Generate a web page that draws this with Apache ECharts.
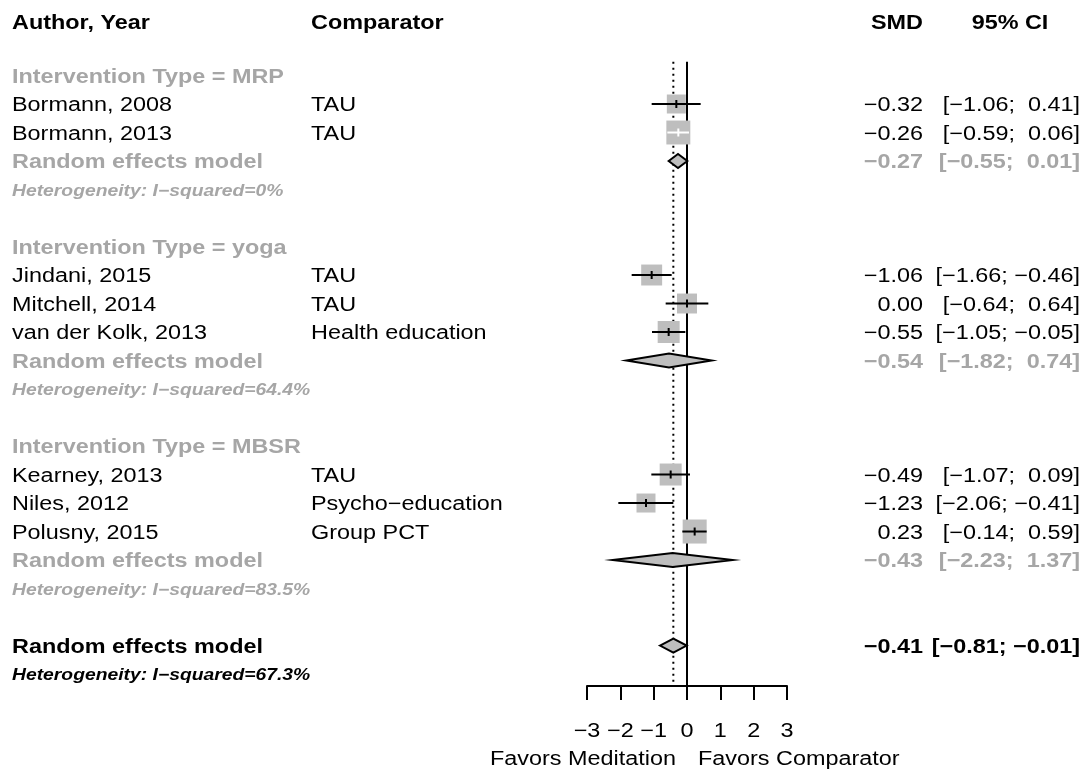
<!DOCTYPE html>
<html>
<head>
<meta charset="utf-8">
<script src="https://cdn.jsdelivr.net/npm/echarts@6/dist/echarts.min.js"></script>
<style>
  html, body { margin: 0; padding: 0; background: #ffffff; }
  #chart { width: 1090px; height: 771px; }
</style>
</head>
<body>
<div id="chart"></div>
<script>
// ---- Meta-analysis data: standardised mean differences by intervention type ----
const groupLabels = ['MRP', 'yoga', 'MBSR'];
const studyNames = ['Bormann, 2008', 'Bormann, 2013', 'Jindani, 2015', 'Mitchell, 2014',
  'van der Kolk, 2013', 'Kearney, 2013', 'Niles, 2012', 'Polusny, 2015'];
const studyGroup = [0, 0, 1, 1, 1, 2, 2, 2];
const comparators = ['TAU', 'TAU', 'TAU', 'TAU', 'Health education', 'TAU',
  'Psycho\u2212education', 'Group PCT'];
const smd = [-0.32, -0.26, -1.06, 0.00, -0.55, -0.49, -1.23, 0.23];
const ciLower = [-1.06, -0.59, -1.66, -0.64, -1.05, -1.07, -2.06, -0.14];
const ciUpper = [0.41, 0.06, -0.46, 0.64, -0.05, 0.09, -0.41, 0.59];
const weights = [9.7, 15.4, 11.8, 10.7, 13.0, 13.0, 9.7, 15.5]; // % weight
const groupSmd = [-0.27, -0.54, -0.43];
const groupLower = [-0.55, -1.82, -2.23];
const groupUpper = [0.01, 0.74, 1.37];
const groupI2 = ['0%', '64.4%', '83.5%'];
const overallSmd = -0.41;
const overallLower = -0.81;
const overallUpper = -0.01;
const overallI2 = '67.3%';
const xTicks = [-3, -2, -1, 0, 1, 2, 3];
const leftLabel = 'Favors Meditation';
const rightLabel = 'Favors Comparator';

// ---- Layout and style ----
const FONT = '"Liberation Sans", Arial, Helvetica, sans-serif';
const FS = 20;          // main text size
const FS_HET = 16.5;    // heterogeneity line size
const SX = 1.17;        // horizontal text stretch
const TEXT_DY = 1.5;
const GREY_TEXT = '#a6a6a6';
const SQUARE_FILL = '#bebebe';
const DIAMOND_FILL = '#bebebe';
const SQUARE_K = 6.1;   // side of square = K * sqrt(weight)
const DIAMOND_HALF = 7;
const COL_AUTHOR = 12;
const COL_COMP = 311;
const COL_SMD = 923;
const COL_CI = 1080;
const COL_CI_HEAD = 1010;
const HEADER_ROW = -1.88;
const AXIS_ROW = 21.42;
const LINE_TOP_ROW = -0.48;
const TICK_LABEL_ROW = 22.95;
const SIDE_LABEL_ROW = 23.95;

const minus = s => s.replace(/-/g, '\u2212');
const fmt = v => minus(v.toFixed(2));
const fmtCi = (lo, hi) => '[' + (lo < 0 ? fmt(lo) : '  ' + fmt(lo)) + '; ' +
  (hi < 0 ? fmt(hi) : ' ' + fmt(hi)) + ']';

// ---- Build the table rows ----
const textItems = [];
const studyRows = [];
const groupRows = [];
function addText(row, x, text, font, color, align) {
  textItems.push({ row, x, text, font, color, align });
}
let r = 0;
groupLabels.forEach((g, gi) => {
  addText(r, COL_AUTHOR, 'Intervention Type = ' + g, 'bold ' + FS + 'px ' + FONT, GREY_TEXT, 'left');
  r++;
  studyNames.forEach((name, i) => {
    if (studyGroup[i] !== gi) return;
    studyRows[i] = r;
    addText(r, COL_AUTHOR, name, FS + 'px ' + FONT, '#000', 'left');
    addText(r, COL_COMP, comparators[i], FS + 'px ' + FONT, '#000', 'left');
    addText(r, COL_SMD, fmt(smd[i]), FS + 'px ' + FONT, '#000', 'right');
    addText(r, COL_CI, fmtCi(ciLower[i], ciUpper[i]), FS + 'px ' + FONT, '#000', 'right');
    r++;
  });
  groupRows[gi] = r;
  addText(r, COL_AUTHOR, 'Random effects model', 'bold ' + FS + 'px ' + FONT, GREY_TEXT, 'left');
  addText(r, COL_SMD, fmt(groupSmd[gi]), 'bold ' + FS + 'px ' + FONT, GREY_TEXT, 'right');
  addText(r, COL_CI, fmtCi(groupLower[gi], groupUpper[gi]), 'bold ' + FS + 'px ' + FONT, GREY_TEXT, 'right');
  r++;
  addText(r, COL_AUTHOR, 'Heterogeneity: I\u2212squared=' + groupI2[gi],
    'italic bold ' + FS_HET + 'px ' + FONT, GREY_TEXT, 'left');
  r += 2;
});
const overallRow = r;
addText(r, COL_AUTHOR, 'Random effects model', 'bold ' + FS + 'px ' + FONT, '#000', 'left');
addText(r, COL_SMD, fmt(overallSmd), 'bold ' + FS + 'px ' + FONT, '#000', 'right');
addText(r, COL_CI, fmtCi(overallLower, overallUpper), 'bold ' + FS + 'px ' + FONT, '#000', 'right');
addText(r + 1, COL_AUTHOR, 'Heterogeneity: I\u2212squared=' + overallI2,
  'italic bold ' + FS_HET + 'px ' + FONT, '#000', 'left');

// Column headers
addText(HEADER_ROW, COL_AUTHOR, 'Author, Year', 'bold ' + FS + 'px ' + FONT, '#000', 'left');
addText(HEADER_ROW, COL_COMP, 'Comparator', 'bold ' + FS + 'px ' + FONT, '#000', 'left');
addText(HEADER_ROW, COL_SMD, 'SMD', 'bold ' + FS + 'px ' + FONT, '#000', 'right');
addText(HEADER_ROW, COL_CI_HEAD, '95% CI', 'bold ' + FS + 'px ' + FONT, '#000', 'center');

// ---- Series data ----
const studyData = smd.map((v, i) => [v, studyRows[i], ciLower[i], ciUpper[i], weights[i]]);
const diamondData = groupSmd.map((v, gi) => [v, groupRows[gi], groupLower[gi], groupUpper[gi]])
  .concat([[overallSmd, overallRow, overallLower, overallUpper]]);
const refData = [[0, LINE_TOP_ROW, AXIS_ROW, 0], [overallSmd, LINE_TOP_ROW, AXIS_ROW - 0.14, 1]];

const chart = echarts.init(document.getElementById('chart'), null, { renderer: 'canvas' });

function stretchedText(x, y, text, font, align) {
  return {
    type: 'text', x: x, y: y + TEXT_DY, scaleX: SX,
    style: { text: text, font: font, fill: '#000', align: align, verticalAlign: 'middle' }
  };
}

chart.setOption({
  animation: false,
  backgroundColor: '#ffffff',
  grid: { left: 587, right: 303, top: 18.5, bottom: 85 },
  xAxis: {
    type: 'value', min: -3, max: 3, interval: 1,
    axisLine: { show: true, onZero: false, lineStyle: { color: '#000', width: 2 } },
    axisTick: { show: true, length: 14, lineStyle: { color: '#000', width: 2 } },
    axisLabel: { show: false },
    splitLine: { show: false }
  },
  yAxis: { type: 'value', inverse: true, min: -2, max: AXIS_ROW, show: false },
  series: [
    {
      // reference lines: no effect (solid) and pooled estimate (dotted)
      type: 'custom', z: 1, clip: false,
      data: refData,
      renderItem: (params, api) => {
        const top = api.coord([api.value(0), api.value(1)]);
        const bot = api.coord([api.value(0), api.value(2)]);
        const dotted = api.value(3) === 1;
        return {
          type: 'line',
          shape: { x1: top[0], y1: top[1], x2: bot[0], y2: bot[1] },
          style: { stroke: '#000', lineWidth: 2, lineDash: dotted ? [2, 4] : null }
        };
      }
    },
    {
      // individual studies: weighted square with confidence interval
      type: 'custom', z: 2, clip: false,
      data: studyData,
      renderItem: (params, api) => {
        const c = api.coord([api.value(0), api.value(1)]);
        const lo = api.coord([api.value(2), api.value(1)])[0];
        const hi = api.coord([api.value(3), api.value(1)])[0];
        const side = SQUARE_K * Math.sqrt(api.value(4));
        const inside = lo >= c[0] - side / 2 && hi <= c[0] + side / 2;
        const lc = inside ? '#ffffff' : '#000000';
        return {
          type: 'group',
          children: [
            { type: 'rect', shape: { x: c[0] - side / 2, y: c[1] - side / 2, width: side, height: side },
              style: { fill: SQUARE_FILL } },
            { type: 'line', shape: { x1: lo, y1: c[1], x2: hi, y2: c[1] },
              style: { stroke: lc, lineWidth: 2 } },
            { type: 'line', shape: { x1: c[0], y1: c[1] - 4, x2: c[0], y2: c[1] + 4 },
              style: { stroke: lc, lineWidth: 2 } }
          ]
        };
      }
    },
    {
      // pooled estimates: diamonds
      type: 'custom', z: 3, clip: false,
      data: diamondData,
      renderItem: (params, api) => {
        const c = api.coord([api.value(0), api.value(1)]);
        const lo = api.coord([api.value(2), api.value(1)])[0];
        const hi = api.coord([api.value(3), api.value(1)])[0];
        return {
          type: 'polygon',
          shape: { points: [[lo, c[1]], [c[0], c[1] - DIAMOND_HALF], [hi, c[1]], [c[0], c[1] + DIAMOND_HALF]] },
          style: { fill: DIAMOND_FILL, stroke: '#000', lineWidth: 2, lineJoin: 'miter' }
        };
      }
    },
    {
      // table text columns
      type: 'custom', z: 4, clip: false, silent: true,
      data: textItems.map((t, i) => [i, t.row]),
      renderItem: (params, api) => {
        const t = textItems[params.dataIndex];
        const y = api.coord([0, t.row])[1];
        const el = stretchedText(t.x, y, t.text, t.font, t.align);
        el.style.fill = t.color;
        return el;
      }
    },
    {
      // x-axis tick labels
      type: 'custom', z: 4, clip: false, silent: true,
      data: xTicks.map(v => [v, TICK_LABEL_ROW]),
      renderItem: (params, api) => {
        const p = api.coord([api.value(0), api.value(1)]);
        return stretchedText(p[0], p[1], minus(String(api.value(0))), FS + 'px ' + FONT, 'center');
      }
    },
    {
      // direction labels under the axis
      type: 'custom', z: 4, clip: false, silent: true,
      data: [[0, SIDE_LABEL_ROW, -1], [0, SIDE_LABEL_ROW, 1]],
      renderItem: (params, api) => {
        const p = api.coord([api.value(0), api.value(1)]);
        const side = api.value(2);
        return stretchedText(p[0] + side * 11, p[1], side < 0 ? leftLabel : rightLabel,
          FS + 'px ' + FONT, side < 0 ? 'right' : 'left');
      }
    }
  ]
});
</script>
</body>
</html>
